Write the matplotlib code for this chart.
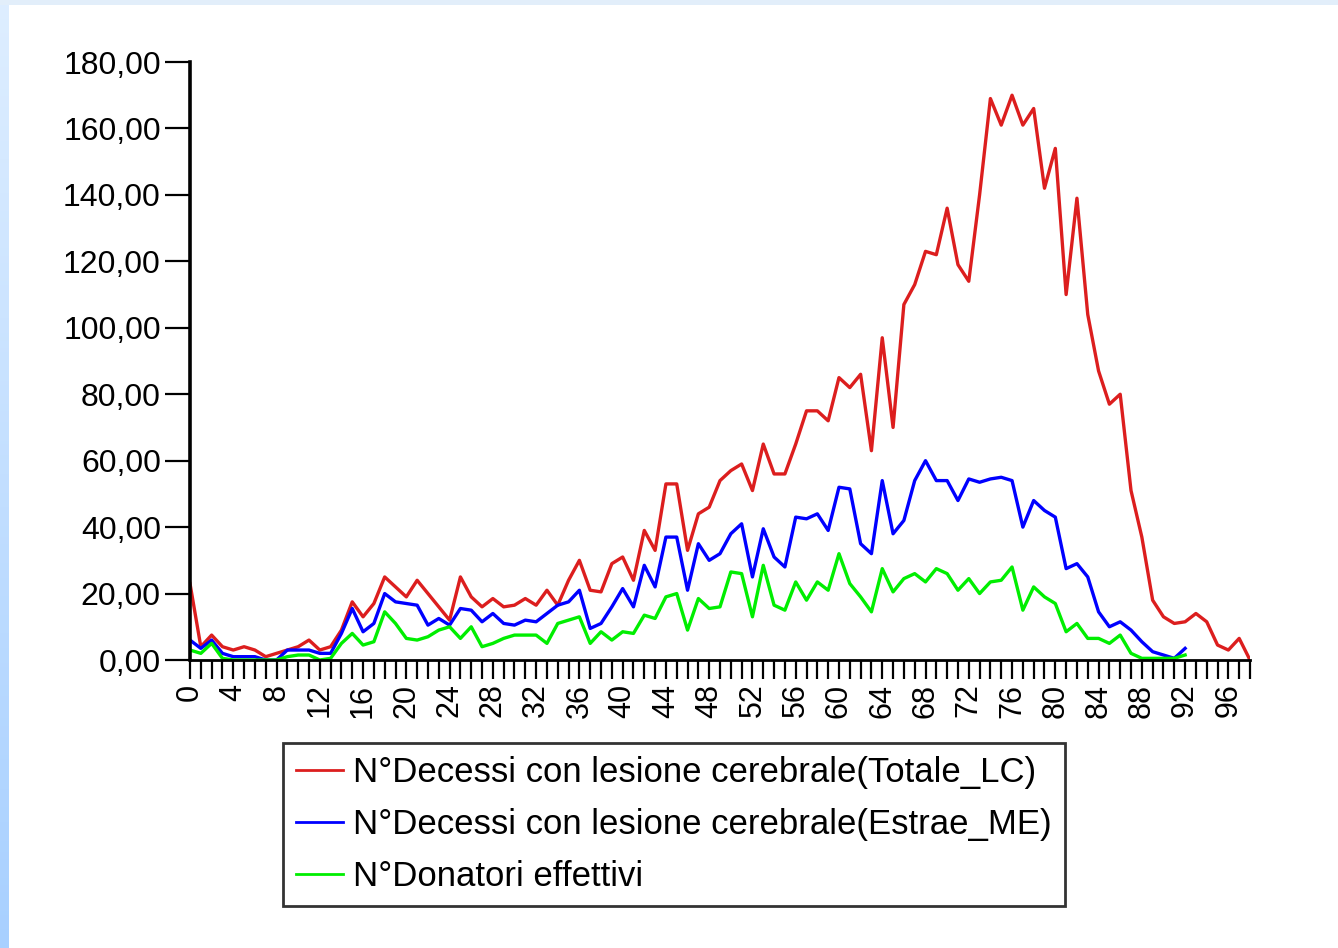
import numpy as np
import matplotlib
matplotlib.use("Agg")
import matplotlib.pyplot as plt
from matplotlib.ticker import FuncFormatter

plt.rcParams['font.family'] = ['Liberation Sans', 'DejaVu Sans']

# eta' (anni) e conteggi per classe di eta'
eta = list(range(0, 99))

totale_lc = [23, 4, 7.5, 4, 3, 4, 3, 1, 2, 3,
             4, 6, 3, 4, 9, 17.5, 13, 17, 25, 22,
             19, 24, 20, 16, 12, 25, 19, 16, 18.5, 16,
             16.5, 18.5, 16.5, 21, 16.5, 24, 30, 21, 20.5, 29,
             31, 24, 39, 33, 53, 53, 33, 44, 46, 54,
             57, 59, 51, 65, 56, 56, 65, 75, 75, 72,
             85, 82, 86, 63, 97, 70, 107, 113, 123, 122,
             136, 119, 114, 140, 169, 161, 170, 161, 166, 142,
             154, 110, 139, 104, 87, 77, 80, 51, 37, 18,
             13, 11, 11.5, 14, 11.5, 4.5, 3, 6.5, 0]

estrae_me = [6, 3.5, 6, 2, 1, 1, 1, 0, 0, 3,
             3, 3, 2, 2, 8, 15.5, 8.5, 11, 20, 17.5,
             17, 16.5, 10.5, 12.5, 10.5, 15.5, 15, 11.5, 14, 11,
             10.5, 12, 11.5, 14, 16.5, 17.5, 21, 9.5, 11, 16,
             21.5, 16, 28.5, 22, 37, 37, 21, 35, 30, 32,
             38, 41, 25, 39.5, 31, 28, 43, 42.5, 44, 39,
             52, 51.5, 35, 32, 54, 38, 42, 54, 60, 54,
             54, 48, 54.5, 53.5, 54.5, 55, 54, 40, 48, 45,
             43, 27.5, 29, 25, 14.5, 10, 11.5, 9, 5.5, 2.5,
             1.5, 0.5, 3.5]

donatori = [3, 2, 5, 0.5, 0, 0, 0, 0, 0, 1,
            1.5, 1.5, 0, 0.5, 5, 8, 4.5, 5.5, 14.5, 11,
            6.5, 6, 7, 9, 10, 6.5, 10, 4, 5, 6.5,
            7.5, 7.5, 7.5, 5, 11, 12, 13, 5, 8.5, 6,
            8.5, 8, 13.5, 12.5, 19, 20, 9, 18.5, 15.5, 16,
            26.5, 26, 13, 28.5, 16.5, 15, 23.5, 18, 23.5, 21,
            32, 23, 19, 14.5, 27.5, 20.5, 24.5, 26, 23.5, 27.5,
            26, 21, 24.5, 20, 23.5, 24, 28, 15, 22, 19,
            17, 8.5, 11, 6.5, 6.5, 5, 7.5, 2, 0.5, 0.5,
            0.5, 0.5, 1.5]

etichette = [
    "N°Decessi con lesione cerebrale(Totale_LC)",
    "N°Decessi con lesione cerebrale(Estrae_ME)",
    "N°Donatori effettivi",
]

W, H = 1338, 948
fig = plt.figure(figsize=(W / 100, H / 100), dpi=100)
fig.patch.set_facecolor("white")

# bordo azzurro sfumato (sinistra e in alto)
bg_left = fig.add_axes([0, 0, 9 / W, 1])
grad = np.linspace(0, 1, 256).reshape(-1, 1)
cols = np.array([222, 238, 255]) * (1 - grad[..., None]) + np.array([168, 208, 255]) * grad[..., None]
bg_left.imshow(cols.astype(np.uint8), aspect="auto", origin="upper")
bg_left.set_axis_off()
bg_top = fig.add_axes([0, 1 - 5 / H, 1, 5 / H])
bg_top.set_facecolor("#e2eefa")
bg_top.set_xticks([])
bg_top.set_yticks([])
for s in bg_top.spines.values():
    s.set_visible(False)

ax = fig.add_axes([190 / W, 1 - 660 / H, (1250 - 190) / W, (660 - 62) / H])

ax.plot(eta[:len(totale_lc)], totale_lc, color="#dc1e1e", lw=2.4, label=etichette[0])
ax.plot(eta[:len(estrae_me)], estrae_me, color="#0000ff", lw=2.4, label=etichette[1])
ax.plot(eta[:len(donatori)], donatori, color="#00ee00", lw=2.4, label=etichette[2])

ax.set_xlim(0, 98)
ax.set_ylim(0, 180)
ax.set_yticks(np.arange(0, 181, 20))
ax.yaxis.set_major_formatter(FuncFormatter(lambda v, p: f"{v:.2f}".replace(".", ",")))
ax.set_xticks(eta)
ax.set_xticklabels([str(a) if a % 4 == 0 else "" for a in eta], rotation=90)

ax.spines["top"].set_visible(False)
ax.spines["right"].set_visible(False)
ax.spines["left"].set_linewidth(2.6)
ax.spines["bottom"].set_linewidth(2.0)
for s in ("left", "bottom"):
    ax.spines[s].set_zorder(5)
ax.tick_params(axis="y", direction="out", length=18, width=1.6, pad=3, labelsize=23, colors="black")
ax.tick_params(axis="x", direction="out", length=14, width=1.6, pad=3, labelsize=22, colors="black")
ax.set_facecolor("white")

leg = fig.legend(loc="upper left",
                 bbox_to_anchor=(283 / W, 1 - 905 / H, (1065 - 283) / W, (905 - 743) / H),
                 mode="expand", fontsize=25, frameon=True, fancybox=False,
                 handlelength=1.35, handletextpad=0.3, borderpad=0.38,
                 labelspacing=0.54, borderaxespad=0)
leg.get_frame().set_edgecolor("black")
leg.get_frame().set_linewidth(2.0)
for line in leg.get_lines():
    line.set_linewidth(2.0)

fig.savefig("out.png", dpi=100, facecolor="white")
